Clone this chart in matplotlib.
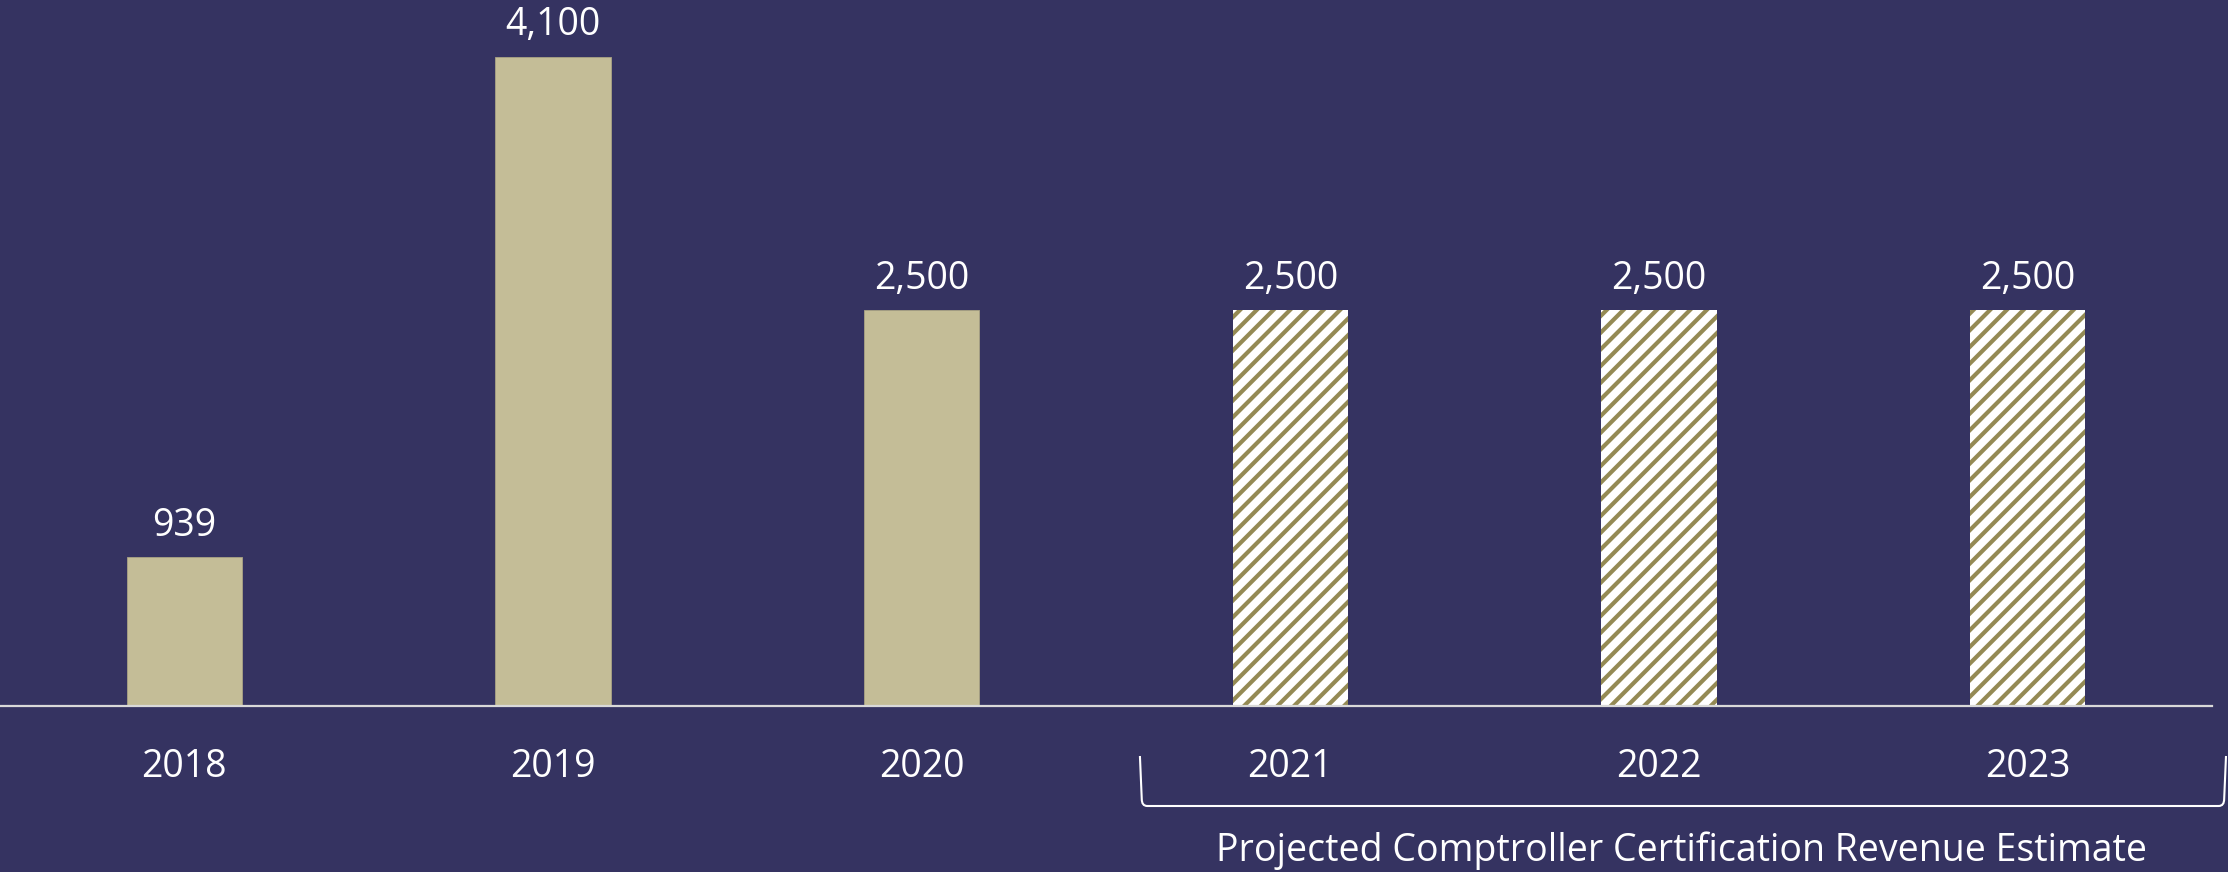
import matplotlib
matplotlib.use("Agg")
import matplotlib.pyplot as plt
from matplotlib.path import Path
from matplotlib.patches import PathPatch
from matplotlib.transforms import blended_transform_factory

# Datos
years = ["2018", "2019", "2020", "2021", "2022", "2023"]
values = [939, 4100, 2500, 2500, 2500, 2500]
projected = [False, False, False, True, True, True]
value_labels = ["939", "4,100", "2,500", "2,500", "2,500", "2,500"]
note = "Projected Comptroller Certification Revenue Estimate"

# Colores
fondo = "#353361"
tan = "#C4BD97"
oliva = "#948A54"

plt.rcParams["font.family"] = ["Open Sans", "DejaVu Sans"]
plt.rcParams["hatch.linewidth"] = 3.0

fig = plt.figure(figsize=(22.28, 8.72), dpi=100)
fig.patch.set_facecolor(fondo)
ax = fig.add_axes([0, 1 - 706 / 872, 2212 / 2228, 706 / 872])
ax.set_facecolor(fondo)

x = list(range(len(years)))
for xi, v, p in zip(x, values, projected):
    if p:
        ax.bar(xi, v, width=0.312, color="white", edgecolor=oliva,
               linewidth=0, hatch="//")
    else:
        ax.bar(xi, v, width=0.312, color=tan, edgecolor="#A9A384",
               linewidth=0.6)

for xi, v, lab in zip(x, values, value_labels):
    ax.annotate(lab, (xi, v), xytext=(0, 9), textcoords="offset points",
                ha="center", va="bottom", color="white", fontsize=27)

ax.set_xlim(-0.5, 5.5)
ax.set_ylim(0, 4460)
ax.set_xticks(x)
ax.set_xticklabels(years, color="white", fontsize=27)
ax.tick_params(axis="x", length=0, pad=30)
ax.set_yticks([])
for s in ["top", "left", "right"]:
    ax.spines[s].set_visible(False)
ax.spines["bottom"].set_color("#D9D9D9")
ax.spines["bottom"].set_linewidth(1.6)

# Llave de los anios proyectados
tr = blended_transform_factory(ax.transData, fig.transFigure)
x0, x1 = 2.592, 5.538
ytop, ybot = 1 - 756 / 872, 1 - 806 / 872
rx, ry = 0.02, 0.008
verts = [(x0, ytop), (x0 + 0.005, ybot + ry), (x0 + 0.005, ybot), (x0 + rx, ybot),
         (x1 - rx, ybot), (x1 - 0.005, ybot), (x1 - 0.005, ybot + ry), (x1, ytop)]
codes = [Path.MOVETO, Path.LINETO, Path.CURVE3, Path.CURVE3,
         Path.LINETO, Path.CURVE3, Path.CURVE3, Path.LINETO]
llave = PathPatch(Path(verts, codes), facecolor="none", edgecolor="white",
                  linewidth=1.5, transform=tr, clip_on=False)
ax.add_patch(llave)

ax.text(4.06, 1 - 851 / 872, note, transform=tr, ha="center", va="center",
        color="white", fontsize=27)

fig.savefig("out.png", dpi=100, facecolor=fondo)
